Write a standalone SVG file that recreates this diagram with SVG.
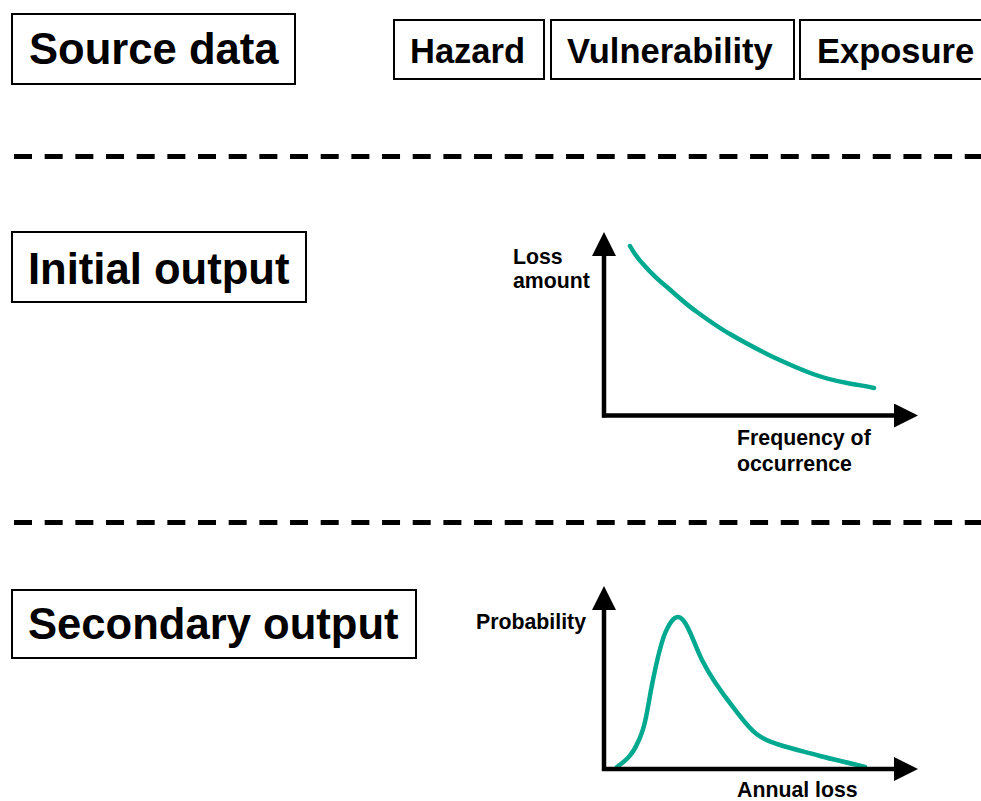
<svg xmlns="http://www.w3.org/2000/svg" width="981" height="801" viewBox="0 0 981 801">
  <style>
    .box { fill: #ffffff; stroke: #000000; stroke-width: 2; }
    .title { font-family: "Liberation Sans", Arial, sans-serif; font-weight: bold; font-size: 43.6px; fill: #000000; }
    .src { font-family: "Liberation Sans", Arial, sans-serif; font-weight: bold; font-size: 34.5px; fill: #000000; }
    .lbl { font-family: "Liberation Sans", Arial, sans-serif; font-weight: bold; font-size: 21.3px; fill: #000000; }
    .sep { stroke: #000000; stroke-width: 5; stroke-dasharray: 18 12.67; fill: none; }
    .axis { stroke: #000000; stroke-width: 4.5; fill: none; marker-end: url(#arrow); }
    .curve { stroke: #00A98F; stroke-width: 4.5; fill: none; stroke-linecap: round; stroke-linejoin: round; }
  </style>
  <defs>
    <marker id="arrow" markerUnits="userSpaceOnUse" markerWidth="24" markerHeight="24" viewBox="0 0 24 24" refX="0" refY="12" orient="auto">
      <path d="M0,0 L24,12 L0,24 Z" fill="#000000"/>
    </marker>
  </defs>

  <rect width="981" height="801" fill="#ffffff"/>

  <!-- Source data row -->
  <g id="source-data">
    <rect class="box" x="12" y="14" width="283" height="70"/>
    <text class="title" x="29" y="64">Source data</text>
  </g>
  <g id="hazard">
    <rect class="box" x="394" y="20" width="150" height="59"/>
    <text class="src" x="410" y="63">Hazard</text>
  </g>
  <g id="vulnerability">
    <rect class="box" x="551" y="20" width="243" height="59"/>
    <text class="src" x="567" y="63">Vulnerability</text>
  </g>
  <g id="exposure">
    <rect class="box" x="800" y="20" width="200" height="59"/>
    <text class="src" x="817" y="63">Exposure</text>
  </g>

  <!-- Section separators -->
  <g id="separators">
    <line class="sep" x1="14" y1="156.5" x2="981" y2="156.5"/>
    <line class="sep" x1="14" y1="522.5" x2="981" y2="522.5"/>
  </g>

  <!-- Initial output -->
  <g id="initial-output">
    <rect class="box" x="12" y="232" width="294" height="70"/>
    <text class="title" x="28" y="284">Initial output</text>
  </g>
  <g id="loss-frequency-chart">
    <text class="lbl" x="513" y="264">Loss</text>
    <text class="lbl" x="513" y="288">amount</text>
    <text class="lbl" x="737" y="445">Frequency of</text>
    <text class="lbl" x="737" y="471">occurrence</text>
    <path class="curve" d="M630,246 C634,253 638,259 643,264 C650,272 658,280 667,287 C677,296 687,305 697,312 C708,320 719,328 730,334 C745,343 759,350 773,357 C786,363 799,369 813,374 C824,378 836,381 847,383 C857,385 866,386 874,388"/>
  </g>

  <!-- Secondary output -->
  <g id="secondary-output">
    <rect class="box" x="12" y="590" width="404" height="68"/>
    <text class="title" x="28" y="639">Secondary output</text>
  </g>
  <g id="annual-loss-chart">
    <text class="lbl" x="737" y="797">Annual loss</text>
    <text class="lbl" x="476" y="629">Probability</text>
    <path class="curve" d="M617,767 C625,761 632,756 638,742 C645,728 647,712 651,690 C656,664 661,640 667,629 C672,619 677,613 683,620 C690,628 694,644 702,660 C712,680 722,693 733,707 C742,719 750,730 758,735 C766,741 771,742 777,744 C792,749 806,752 820,756 C835,760 850,763 865,767"/>
  </g>

  <!-- Axes -->
  <g id="connectors">
    <line class="axis" x1="604" y1="417.5" x2="604" y2="256"/>
    <line class="axis" x1="602" y1="415.5" x2="894" y2="415.5"/>
    <line class="axis" x1="604" y1="771" x2="604" y2="610"/>
    <line class="axis" x1="602" y1="769" x2="894" y2="769"/>
  </g>
</svg>
